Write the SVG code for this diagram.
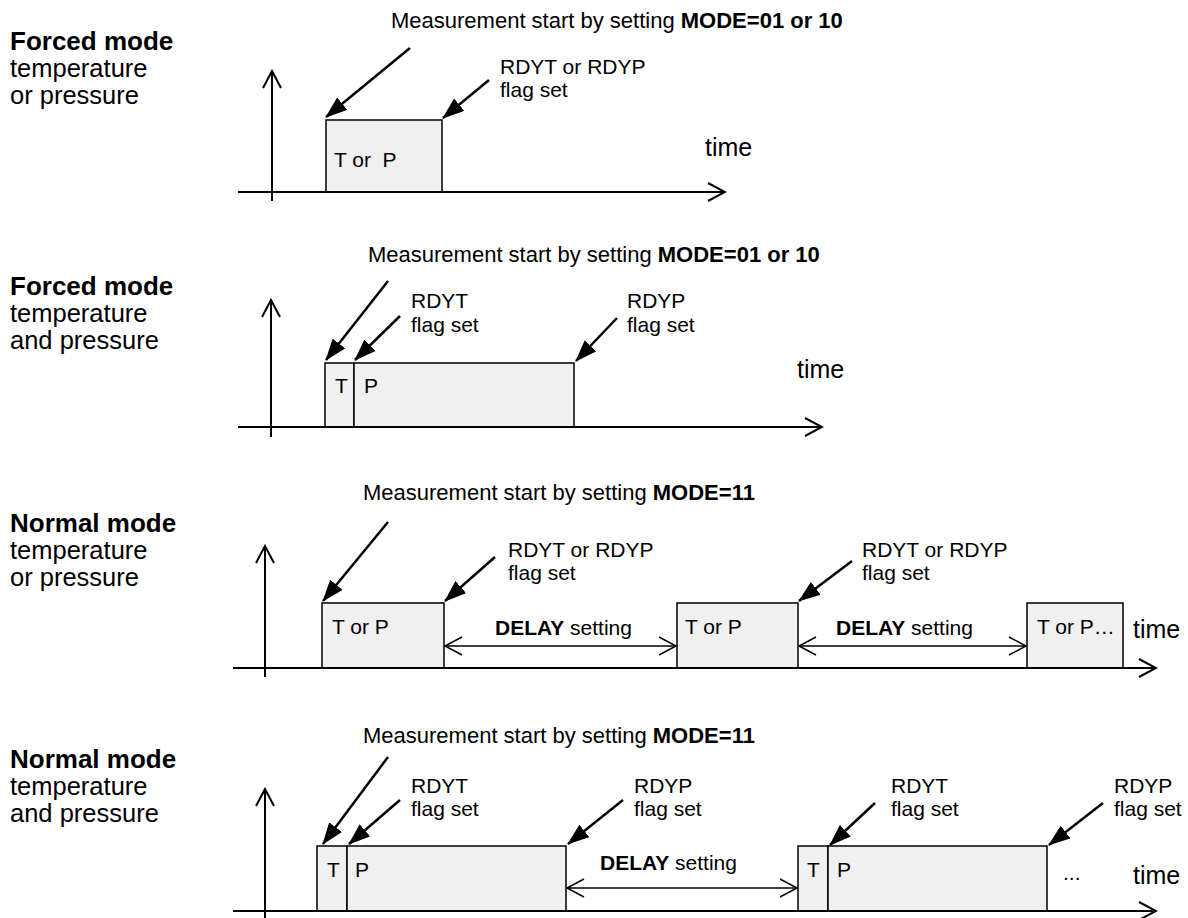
<svg xmlns="http://www.w3.org/2000/svg" width="1188" height="918" viewBox="0 0 1188 918">
<style>
text{font-family:"Liberation Sans",Arial,sans-serif;fill:#000}
.lbl{font-size:25.5px}
.lblb{font-size:26px;font-weight:bold}
.cap{font-size:22px}
.sm{font-size:21px}
.tm{font-size:25px}
.b{font-weight:bold}
.box{fill:#f0f0f0;stroke:#000;stroke-width:1.5}
.axis{stroke:#000;stroke-width:2;fill:none}
.ptr{stroke:#000;stroke-width:2.5;fill:none;marker-end:url(#fa)}
.dly{stroke:#000;stroke-width:1.5;fill:none;marker-start:url(#oa2);marker-end:url(#oa2)}
.ax{marker-end:url(#oa)}
</style>
<defs>
<marker id="fa" markerUnits="userSpaceOnUse" viewBox="0 0 22 16" markerWidth="22" markerHeight="16" refX="21" refY="8" orient="auto"><path d="M0,0 L22,8 L0,16 z" fill="#000"/></marker>
<marker id="oa" markerUnits="userSpaceOnUse" viewBox="0 0 20 22" markerWidth="20" markerHeight="22" refX="18" refY="11" orient="auto"><path d="M1,2 L18,11 L1,20" fill="none" stroke="#000" stroke-width="2"/></marker>
<marker id="oa2" markerUnits="userSpaceOnUse" viewBox="0 0 20 22" markerWidth="20" markerHeight="22" refX="18" refY="11" orient="auto-start-reverse"><path d="M1,2 L18,11 L1,20" fill="none" stroke="#000" stroke-width="1.5"/></marker>
</defs>

<!-- Panel 1 -->
<g id="p1-title"><text x="10" y="50" class="lblb">Forced mode</text><text x="10" y="77" class="lbl">temperature</text><text x="10" y="104" class="lbl">or pressure</text></g>
<g id="p1-start"><text x="391" y="28" class="cap">Measurement start by setting <tspan class="b">MODE=01 or 10</tspan></text></g>
<g id="p1-box"><rect x="326" y="120" width="116" height="72" class="box"/><text x="334" y="167" class="sm" style="white-space:pre">T or  P</text></g>
<g id="p1-flag"><text x="500" y="74" class="sm">RDYT or RDYP</text><text x="500" y="97" class="sm">flag set</text></g>
<g id="p1-time"><text x="705" y="156" class="tm">time</text></g>

<!-- Panel 2 -->
<g id="p2-title"><text x="10" y="295" class="lblb">Forced mode</text><text x="10" y="322" class="lbl">temperature</text><text x="10" y="349" class="lbl">and pressure</text></g>
<g id="p2-start"><text x="368" y="262" class="cap">Measurement start by setting <tspan class="b">MODE=01 or 10</tspan></text></g>
<g id="p2-T"><rect x="325" y="363" width="29" height="64" class="box"/><text x="335" y="393" class="sm">T</text></g>
<g id="p2-P"><rect x="354" y="363" width="220" height="64" class="box"/><text x="364" y="393" class="sm">P</text></g>
<g id="p2-rdyt"><text x="411" y="308" class="sm">RDYT</text><text x="411" y="332" class="sm">flag set</text></g>
<g id="p2-rdyp"><text x="627" y="308" class="sm">RDYP</text><text x="627" y="332" class="sm">flag set</text></g>
<g id="p2-time"><text x="797" y="378" class="tm">time</text></g>

<!-- Panel 3 -->
<g id="p3-title"><text x="10" y="532" class="lblb">Normal mode</text><text x="10" y="559" class="lbl">temperature</text><text x="10" y="586" class="lbl">or pressure</text></g>
<g id="p3-start"><text x="363" y="500" class="cap">Measurement start by setting <tspan class="b">MODE=11</tspan></text></g>
<g id="p3-box1"><rect x="322" y="603" width="122" height="65" class="box"/><text x="332" y="634" class="sm">T or P</text></g>
<g id="p3-box2"><rect x="677" y="603" width="121" height="65" class="box"/><text x="685" y="634" class="sm">T or P</text></g>
<g id="p3-box3"><rect x="1027" y="603" width="96" height="65" class="box"/><text x="1037" y="634" class="sm">T or P…</text></g>
<g id="p3-flag1"><text x="508" y="557" class="sm">RDYT or RDYP</text><text x="508" y="580" class="sm">flag set</text></g>
<g id="p3-flag2"><text x="862" y="557" class="sm">RDYT or RDYP</text><text x="862" y="580" class="sm">flag set</text></g>
<g id="p3-delay1"><text x="495" y="635" class="sm"><tspan class="b">DELAY</tspan> setting</text></g>
<g id="p3-delay2"><text x="836" y="635" class="sm"><tspan class="b">DELAY</tspan> setting</text></g>
<g id="p3-time"><text x="1133" y="638" class="tm">time</text></g>

<!-- Panel 4 -->
<g id="p4-title"><text x="10" y="768" class="lblb">Normal mode</text><text x="10" y="795" class="lbl">temperature</text><text x="10" y="822" class="lbl">and pressure</text></g>
<g id="p4-start"><text x="363" y="743" class="cap">Measurement start by setting <tspan class="b">MODE=11</tspan></text></g>
<g id="p4-T1"><rect x="317" y="846" width="30" height="65" class="box"/><text x="327" y="877" class="sm">T</text></g>
<g id="p4-P1"><rect x="347" y="846" width="219" height="65" class="box"/><text x="355" y="877" class="sm">P</text></g>
<g id="p4-T2"><rect x="798" y="846" width="30" height="65" class="box"/><text x="807" y="877" class="sm">T</text></g>
<g id="p4-P2"><rect x="828" y="846" width="219" height="65" class="box"/><text x="837" y="877" class="sm">P</text></g>
<g id="p4-rdyt1"><text x="411" y="793" class="sm">RDYT</text><text x="411" y="816" class="sm">flag set</text></g>
<g id="p4-rdyp1"><text x="634" y="793" class="sm">RDYP</text><text x="634" y="816" class="sm">flag set</text></g>
<g id="p4-rdyt2"><text x="891" y="793" class="sm">RDYT</text><text x="891" y="816" class="sm">flag set</text></g>
<g id="p4-rdyp2"><text x="1114" y="793" class="sm">RDYP</text><text x="1114" y="816" class="sm">flag set</text></g>
<g id="p4-delay"><text x="600" y="870" class="sm"><tspan class="b">DELAY</tspan> setting</text></g>
<g id="p4-dots"><text x="1063" y="880" class="sm">...</text></g>
<g id="p4-time"><text x="1133" y="884" class="tm">time</text></g>

<g id="connectors">
<!-- axes -->
<line x1="272" y1="201" x2="272" y2="71" class="axis ax"/>
<line x1="238" y1="192" x2="725" y2="192" class="axis ax"/>
<line x1="271" y1="437" x2="271" y2="300" class="axis ax"/>
<line x1="238" y1="427" x2="822" y2="427" class="axis ax"/>
<line x1="265" y1="677" x2="265" y2="546" class="axis ax"/>
<line x1="233" y1="668" x2="1156" y2="668" class="axis ax"/>
<line x1="265" y1="918" x2="265" y2="789" class="axis ax"/>
<line x1="233" y1="911" x2="1156" y2="911" class="axis ax"/>
<!-- pointer arrows -->
<line x1="410" y1="48" x2="326" y2="117" class="ptr"/>
<line x1="489" y1="80" x2="443" y2="118" class="ptr"/>
<line x1="388" y1="281" x2="326" y2="360" class="ptr"/>
<line x1="400" y1="316" x2="355" y2="360" class="ptr"/>
<line x1="617" y1="318" x2="576" y2="361" class="ptr"/>
<line x1="388" y1="522" x2="323" y2="601" class="ptr"/>
<line x1="495" y1="557" x2="445" y2="601" class="ptr"/>
<line x1="852" y1="561" x2="799" y2="601" class="ptr"/>
<line x1="388" y1="757" x2="323" y2="844" class="ptr"/>
<line x1="400" y1="800" x2="349" y2="844" class="ptr"/>
<line x1="623" y1="800" x2="568" y2="844" class="ptr"/>
<line x1="875" y1="803" x2="830" y2="845" class="ptr"/>
<line x1="1103" y1="803" x2="1049" y2="845" class="ptr"/>
<!-- delay arrows -->
<line x1="445" y1="646" x2="676" y2="646" class="dly"/>
<line x1="799" y1="646" x2="1026" y2="646" class="dly"/>
<line x1="567" y1="888" x2="797" y2="888" class="dly"/>
</g>
</svg>
